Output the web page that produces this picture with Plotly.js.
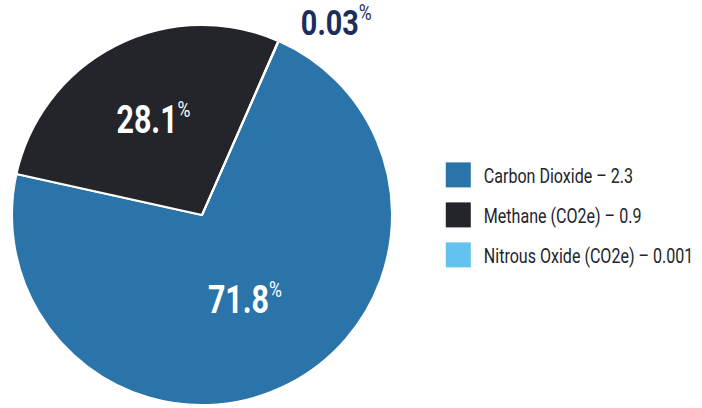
<!DOCTYPE html>
<html><head><meta charset="utf-8">
<script src="https://cdn.plot.ly/plotly-3.0.1.min.js"></script>
<style>html,body{margin:0;padding:0;background:#fff}#chart{width:702px;height:408px}</style>
</head><body><div id="chart"></div>
<script>
const labels = ["Carbon Dioxide – 2.3", "Methane (CO2e) – 0.9", "Nitrous Oxide (CO2e) – 0.001"];
const values = [2.3, 0.9, 0.001];
const pctLabels = ["71.8", "28.1", "0.03"];
const colors = ["#2a74a9", "#23252b", "#64c3ee"];
const FONT = "Roboto, 'Noto Sans', sans-serif";
const PCT = "<sup><span style=\"font-size:22px\">%</span></sup>";
const NARROW_LEGEND = 0.765;
const NARROW_LABEL = 0.8;

const trace = {
  type: "pie",
  labels: labels,
  values: values,
  text: pctLabels,
  texttemplate: ["<b>%{text}</b>" + PCT, "<b>%{text}</b>" + PCT, ""],
  textinfo: "text",
  textposition: ["inside", "inside", "none"],
  insidetextorientation: "horizontal",
  insidetextfont: {family: FONT, size: 38, color: "#ffffff"},
  sort: false,
  direction: "clockwise",
  rotation: 23.8,
  marker: {colors: colors, line: {color: "#ffffff", width: 2}},
  domain: {x: [12/702, 392/702], y: [3/408, 383/408]},
  hoverinfo: "none"
};

const layout = {
  width: 702, height: 408,
  margin: {l: 0, r: 0, t: 0, b: 0, autoexpand: false},
  paper_bgcolor: "#ffffff",
  showlegend: true,
  legend: {
    x: 0.6165, y: 0.47, xanchor: "left", yanchor: "middle",
    font: {family: FONT, size: 21, color: "#23252b"},
    itemwidth: 41,
    bgcolor: "rgba(0,0,0,0)",
    tracegroupgap: 0
  },
  annotations: [{
    text: "<b>" + pctLabels[2] + "</b>" + PCT,
    xref: "paper", yref: "paper", x: 336/702, y: 1 - 22/408,
    xanchor: "center", yanchor: "middle", showarrow: false,
    font: {family: FONT, size: 36, color: "#1b2d5b"}
  }]
};

function narrow(el, s, anchorLeft) {
  const b = el.getBBox();
  const cx = anchorLeft ? b.x : b.x + b.width / 2;
  const t = el.getAttribute("transform") || "";
  el.setAttribute("transform", t + " translate(" + cx + ",0) scale(" + s + ",1) translate(" + (-cx) + ",0)");
}

Plotly.newPlot("chart", [trace], layout, {staticPlot: true}).then(function(){
  document.querySelectorAll(".legend [clip-path]").forEach(function(e){ e.removeAttribute("clip-path"); });
  document.querySelectorAll(".legendpoints path").forEach(function(p){
    p.setAttribute("d", "M12.5,12.5H-12.5V-12.5H12.5Z");
    p.style.strokeWidth = "0";
  });
  const items = document.querySelectorAll(".legend .traces");
  if (items.length) {
    const m = /translate\(([-\d.]+)[, ]+([-\d.]+)\)/.exec(items[0].getAttribute("transform") || "");
    const x0 = m ? parseFloat(m[1]) : 0, y0 = m ? parseFloat(m[2]) : 0;
    items.forEach(function(g, i){ g.setAttribute("transform", "translate(" + x0 + "," + (y0 + i * 40 - 11) + ")"); });
  }
  document.querySelectorAll(".legend text.legendtext").forEach(function(t){ narrow(t, NARROW_LEGEND, true); });
  document.querySelectorAll("g.slicetext text").forEach(function(t){ narrow(t, NARROW_LABEL, false); });
  document.querySelectorAll(".annotation-text").forEach(function(t){ narrow(t, NARROW_LABEL, false); });
});
</script>
</body></html>
